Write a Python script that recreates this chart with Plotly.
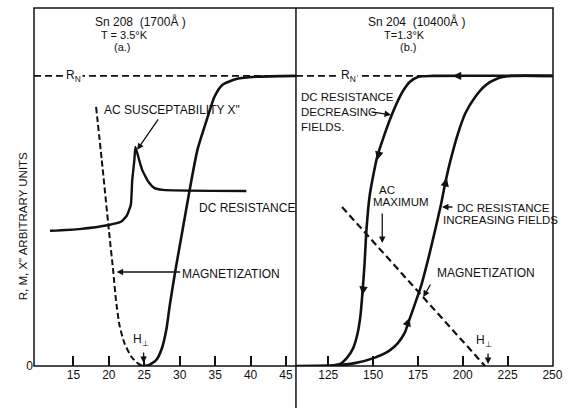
import plotly.graph_objects as go

# ---------------- data ----------------
# Panel (a): Sn 208, T = 3.5 K
a_ac_H = [11.7, 15.8, 20.0, 21.7, 22.5, 23.1, 23.3, 23.6, 23.75, 24.2, 24.7, 25.6, 26.4, 27.6, 39.4]
a_ac_Y = [0.466, 0.472, 0.486, 0.497, 0.517, 0.555, 0.641, 0.710, 0.755, 0.717, 0.676, 0.634, 0.614, 0.607, 0.603]

a_dc_H = [24.2, 25.6, 26.7, 27.5, 28.1, 28.6, 29.4, 30.4, 31.4, 32.5, 33.9, 34.9, 36.0, 38.1, 40.8, 46.4]
a_dc_Y = [0.0, 0.003, 0.021, 0.062, 0.124, 0.21, 0.331, 0.469, 0.607, 0.745, 0.855, 0.928, 0.969, 0.990, 0.997, 1.0]

a_mag_H = [18.2, 19.0, 20.0, 20.6, 21.0, 21.5, 22.2, 23.2, 24.2, 25.0]
a_mag_Y = [0.893, 0.710, 0.469, 0.331, 0.228, 0.141, 0.079, 0.031, 0.007, 0.0]

# Panel (b): Sn 204, T = 1.3 K
b_inc_H = [107, 128.8, 139.8, 150.7, 158.9, 163.8, 167.6, 169.8, 173.1, 176.9, 181.3, 184.6, 187.8,
           190.0, 192.8, 197.1, 201.5, 207.0, 212.4, 219.0, 227.2, 250]
b_inc_Y = [0.0, 0.002, 0.010, 0.028, 0.052, 0.079, 0.114, 0.152, 0.210, 0.279, 0.383, 0.469, 0.555,
           0.624, 0.700, 0.797, 0.872, 0.928, 0.966, 0.990, 1.0, 1.0]

b_dec_H = [250, 183.5, 175.3, 170.4, 167.1, 163.8, 160.0, 156.1, 152.3, 149.6, 148.0, 146.3, 145.2,
           144.1, 143.0, 141.4, 138.7, 135.4, 131.6, 126.1]
b_dec_Y = [1.0, 1.0, 0.997, 0.979, 0.952, 0.914, 0.859, 0.793, 0.721, 0.641, 0.583, 0.469, 0.348,
           0.255, 0.176, 0.114, 0.059, 0.028, 0.007, 0.0]

b_mag_H = [132.7, 212.4]
b_mag_Y = [0.548, 0.0]

RN = 1.0
a_ticks = [15, 20, 25, 30, 35, 40, 45]
b_ticks = [125, 150, 175, 200, 225, 250]

# ---------------- figure ----------------
FONT = "Liberation Sans, Arial, sans-serif"
BLACK = "#111111"
W, H = 571, 408
ML, MR, MT, MB = 34, 10, 8, 42
SPLIT = (300 - ML) / (W - ML - MR)

fig = go.Figure()

def line(x, y, xa, dash=None, width=2.6, shape="spline", smooth=0.6):
    fig.add_trace(go.Scatter(
        x=x, y=y, xaxis=xa, yaxis="y", mode="lines",
        line=dict(color=BLACK, width=width, dash=dash, shape=shape,
                  smoothing=smooth if shape == "spline" else None),
        hoverinfo="skip", showlegend=False))

# R_N dashed references
line([9.44, 46.4], [RN, RN], "x", dash="7px,4px", width=1.6, shape="linear")
line([107, 250.3], [RN, RN], "x2", dash="7px,4px", width=1.6, shape="linear")

# panel a
line(a_ac_H, a_ac_Y, "x", width=2.4, smooth=0.4)
line(a_dc_H, a_dc_Y, "x", width=2.6)
line(a_mag_H, a_mag_Y, "x", dash="6px,3px", width=2.0)

# panel b
line(b_inc_H, b_inc_Y, "x2", width=2.6)
line(b_dec_H, b_dec_Y, "x2", width=2.6)
line(b_mag_H, b_mag_Y, "x2", dash="7px,4px", width=2.2, shape="linear")

axis_common = dict(showgrid=False, zeroline=False, showline=False, ticks="inside",
                   ticklen=10, tickwidth=1.5, tickcolor=BLACK,
                   tickfont=dict(family=FONT, size=12, color=BLACK))

fig.update_layout(
    width=W, height=H,
    margin=dict(l=ML, r=MR, t=MT, b=MB, pad=0),
    paper_bgcolor="white", plot_bgcolor="white",
    xaxis=dict(domain=[0, SPLIT], range=[9.44, 46.4], tickvals=a_ticks, anchor="y", **axis_common),
    xaxis2=dict(domain=[SPLIT, 1], range=[107, 250.3], tickvals=b_ticks, anchor="y",
                ticklabeloverflow="allow", **axis_common),
    yaxis=dict(range=[0, 1.234], tickvals=[0], ticktext=["0"], showgrid=False, zeroline=False,
               showline=False, ticks="", tickfont=dict(family=FONT, size=12, color=BLACK)),
    showlegend=False,
)

# frame + divider
fig.add_shape(type="rect", xref="paper", yref="paper", x0=0, x1=1, y0=0, y1=1,
              line=dict(color=BLACK, width=1.5))
fig.add_shape(type="line", xref="paper", yref="paper", x0=SPLIT, x1=SPLIT, y0=-0.12, y1=1,
              line=dict(color=BLACK, width=1.5))

def text(xa, x, y, s, size=12, xanchor="center", bg=None, align="center", pad=1):
    fig.add_annotation(xref=xa, yref="y", x=x, y=y, text=s, showarrow=False,
                       xanchor=xanchor, yanchor="middle", align=align,
                       font=dict(family=FONT, size=size, color=BLACK),
                       bgcolor=bg, borderpad=pad)

def arrow(xa, x, y, ax, ay, head=2, size=1.0, width=1.3):
    fig.add_annotation(xref=xa, yref="y", x=x, y=y, ax=ax, ay=ay, text="",
                       showarrow=True, arrowhead=head, arrowsize=size,
                       arrowwidth=width, arrowcolor=BLACK)

# ---- panel a labels
text("x", 24.4, 1.186, "Sn 208  (1700Å )", size=12, pad=0)
text("x", 22.2, 1.142, "T = 3.5°K", size=11, pad=0)
text("x", 21.9, 1.100, "(a.)", size=11, pad=0)
text("x", 15.0, RN, "R<sub>N</sub>", size=12, bg="white")
text("x", 19.0, 0.883, "AC SUSCEPTABILITY X\"", xanchor="left")
arrow("x", 24.0, 0.745, 22, -32)
text("x", 32.5, 0.545, "DC RESISTANCE", xanchor="left")
text("x", 30.1, 0.317, "MAGNETIZATION", xanchor="left")
arrow("x", 21.1, 0.324, 65, 0)
text("x", 24.6, 0.088, "H<sub>⊥</sub>", size=12)
arrow("x", 24.9, 0.01, 0, -12)
text("x", 26.8, -0.093, "H ( GAUSS )", size=12)

# ---- panel b labels
text("x2", 174.2, 1.186, "Sn 204  (10400Å )", size=12, pad=0)
text("x2", 167.6, 1.142, "T=1.3°K", size=11, pad=0)
text("x2", 169.8, 1.100, "(b.)", size=11, pad=0)
text("x2", 136.5, RN, "R<sub>N</sub>", size=12, bg="white")
text("x2", 108.6, 0.876, "DC RESISTANCE<br>DECREASING<br>FIELDS.", size=11.5, xanchor="left", align="left")
arrow("x2", 160.0, 0.866, -21, -3)
text("x2", 157.8, 0.607, "AC", size=11.5)
text("x2", 165.4, 0.566, "MAXIMUM", size=11.5)
arrow("x2", 155.1, 0.424, 0, -31)
text("x2", 195.5, 0.545, "DC RESISTANCE", size=11.5, xanchor="left")
text("x2", 187.8, 0.503, "INCREASING FIELDS", size=11.5, xanchor="left")
arrow("x2", 188.4, 0.548, 12, 0)
text("x2", 184.6, 0.321, "MAGNETIZATION", xanchor="left")
arrow("x2", 178.0, 0.238, 8, -14)
text("x2", 211.9, 0.085, "H<sub>⊥</sub>", size=12)
arrow("x2", 214.1, 0.007, 0, -12)
text("x2", 168.7, -0.093, "H ( GAUSS )", size=12)

# direction arrows on the hysteresis curves
arrow("x2", 152.3, 0.710, 2, -8, head=2, size=1.3)
arrow("x2", 144.1, 0.245, 1, -8, head=2, size=1.3)
arrow("x2", 194.4, RN, 8, 0, head=2, size=1.3)
arrow("x2", 191.1, 0.648, -2, 8, head=2, size=1.3)
arrow("x2", 170.4, 0.166, -3, 8, head=2, size=1.3)

# y-axis title
fig.add_annotation(xref="paper", yref="paper", x=(15 - ML) / (W - ML - MR), y=(366 - 226) / 358,
                   text="R, M, X\" ARBITRARY UNITS", textangle=-90, showarrow=False,
                   font=dict(family=FONT, size=11.5, color=BLACK))

fig.write_html("out.html")
